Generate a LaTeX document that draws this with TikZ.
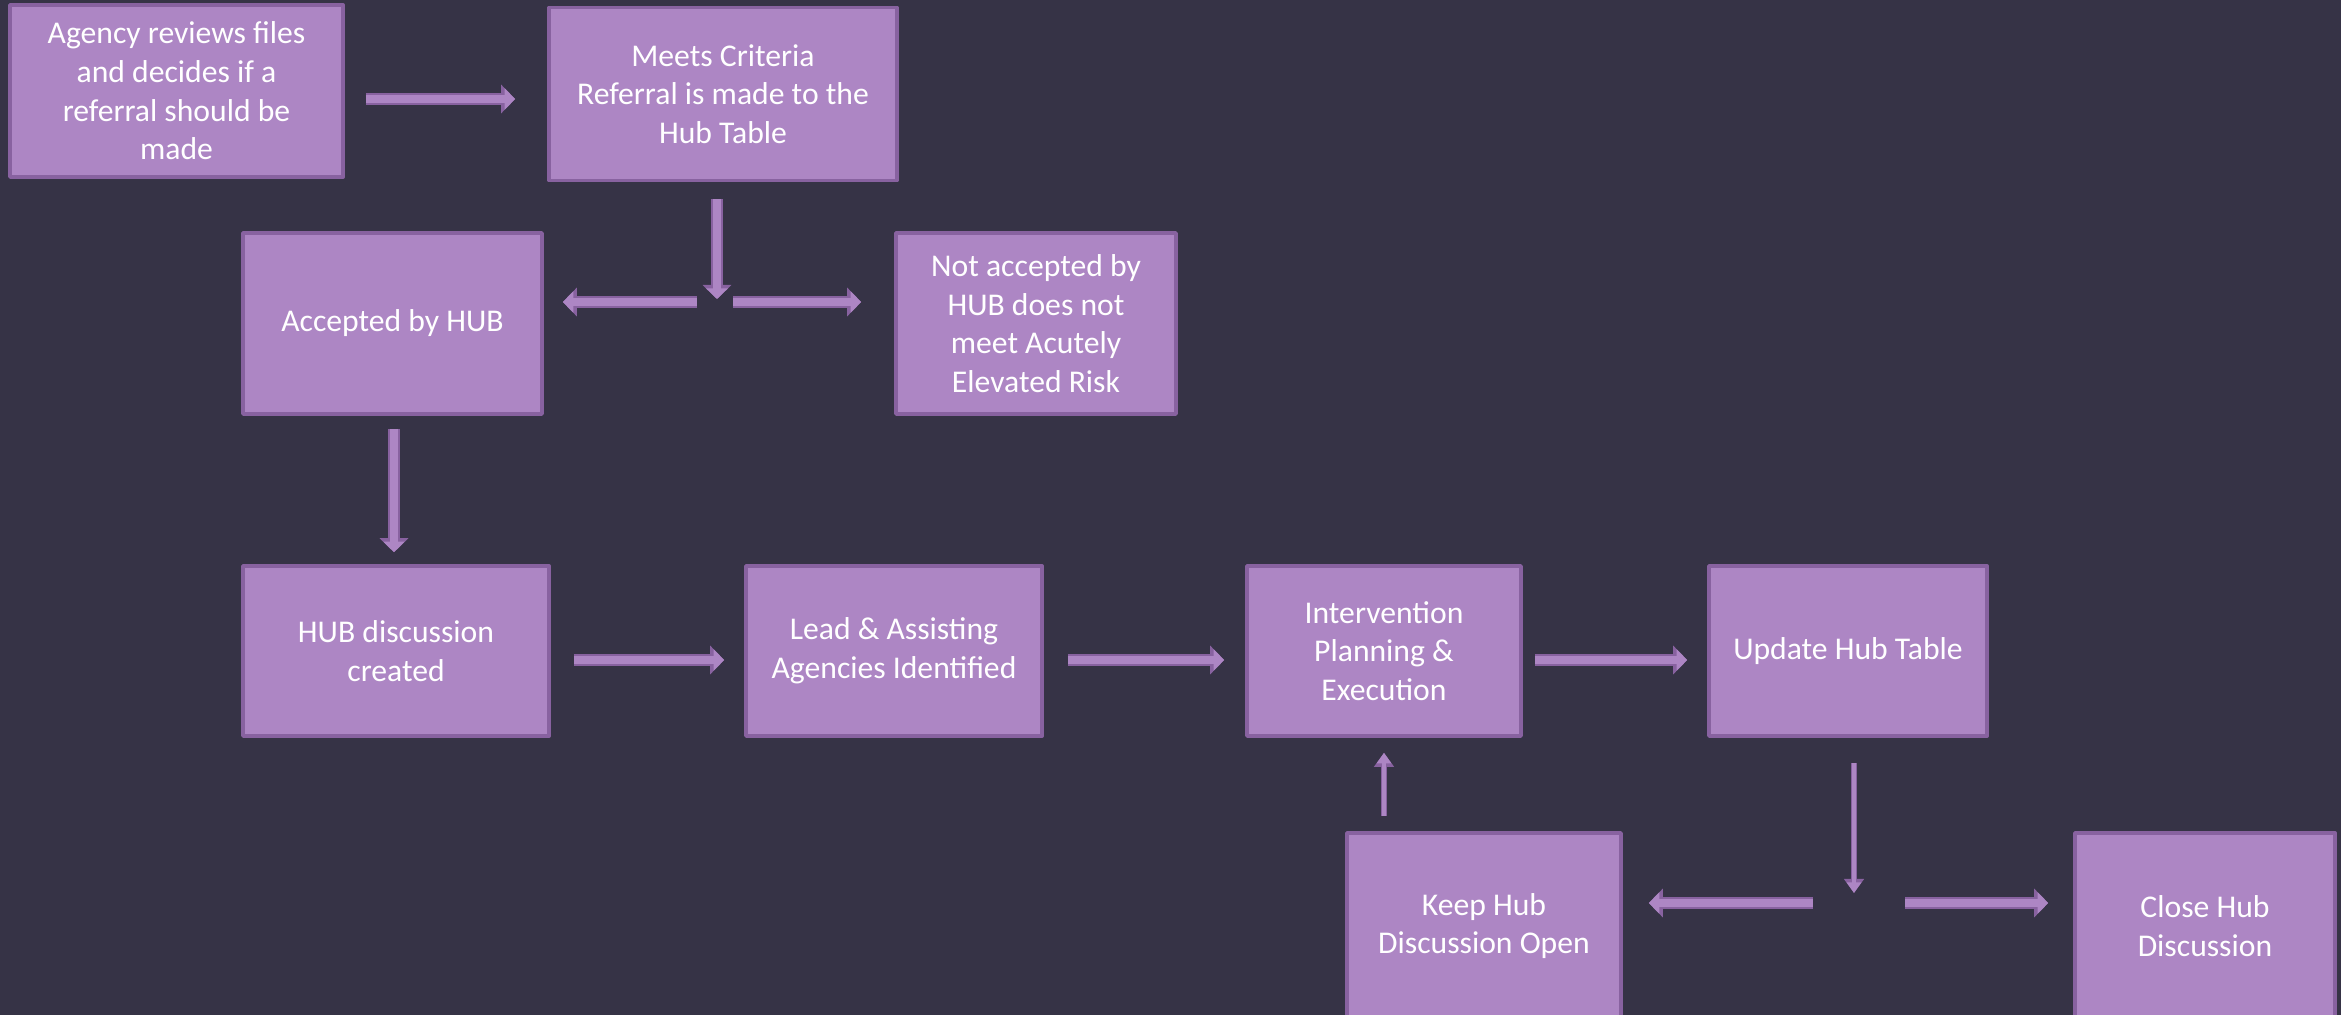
\documentclass[tikz,border=0pt]{standalone}
\usepackage{fontspec}
\setmainfont{Carlito}
\usetikzlibrary{arrows.meta}
\definecolor{slide}{RGB}{54,51,70}
\definecolor{boxfill}{RGB}{173,134,196}
\definecolor{boxline}{RGB}{136,98,160}
\begin{document}
\begin{tikzpicture}[x=0.01cm, y=-0.01cm, line join=round, font=\fontsize{9}{11}\selectfont,
	box/.style={draw=boxline, line width=1pt, fill=boxfill, text=white, align=center, inner sep=0pt},
	flow/.style={draw=boxfill, line width=2pt, -{Triangle[length=3pt,width=6pt]},
		preaction={draw=boxline, line width=3.2pt, -{Triangle[length=4pt,width=8pt]}}},
	thinflow/.style={draw=boxfill, line width=1pt, -{Triangle[length=3pt,width=4pt]},
		preaction={draw=boxline, line width=1.8pt, -{Triangle[length=4pt,width=5.5pt]}}}]
\clip (0,0) rectangle (2341,1015);
\fill[slide] (0,0) rectangle (2341,1015);

\path (176.5,91) node[box, minimum width=3.33cm, minimum height=1.72cm] (agency) {Agency reviews files\\and decides if a\\referral should be\\made}
	(723,94) node[box, minimum width=3.48cm, minimum height=1.73cm] (meets) {Meets Criteria\\Referral is made to the\\Hub Table}
	(392.5,323.5) node[box, minimum width=2.99cm, minimum height=1.81cm] (accepted) {Accepted by HUB}
	(1036,323.5) node[box, minimum width=2.8cm, minimum height=1.81cm] (notacc) {Not accepted by\\HUB does not\\meet Acutely\\Elevated Risk}
	(396,651) node[box, minimum width=3.06cm, minimum height=1.7cm] (hubdisc) {HUB discussion\\created}
	(894,651) node[box, minimum width=2.96cm, minimum height=1.7cm] (lead) {Lead \& Assisting\\Agencies Identified}
	(1384,651) node[box, minimum width=2.74cm, minimum height=1.7cm] (interv) {Intervention\\Planning \&\\Execution}
	(1848,651) node[box, minimum width=2.78cm, minimum height=1.7cm] (update) {Update Hub Table}
	(1484,926) node[box, minimum width=2.74cm, minimum height=1.86cm] (keep) {Keep Hub\\Discussion Open}
	(2205,926) node[box, minimum width=2.6cm, minimum height=1.86cm] (close) {Close Hub\\Discussion}
	(717,302)coordinate(split1) (1854,903)coordinate(split2);

\draw[flow, shorten <=0.21cm, shorten >=0.32cm] ([yshift=-0.08cm]agency.east) -- ([yshift=-0.08cm]agency.east -| meets.west);
\draw[flow, shorten <=0.17cm, shorten >=0.03cm] (meets.south -| split1) -- (split1);
\draw[flow, shorten <=0.2cm, shorten >=0.19cm] (split1) -- (split1 -| accepted.east);
\draw[flow, shorten <=0.16cm, shorten >=0.33cm] (split1) -- (split1 -| notacc.west);
\draw[flow, shorten <=0.13cm, shorten >=0.12cm] ([xshift=0.015cm]accepted.south) -- ([xshift=0.015cm]accepted.south |- hubdisc.north);
\draw[flow, shorten <=0.23cm, shorten >=0.2cm] ([yshift=-0.09cm]hubdisc.east) -- ([yshift=-0.09cm]lead.west);
\draw[flow, shorten <=0.24cm, shorten >=0.21cm] ([yshift=-0.09cm]lead.east) -- ([yshift=-0.09cm]interv.west);
\draw[flow, shorten <=0.12cm, shorten >=0.2cm] ([yshift=-0.09cm]interv.east) -- ([yshift=-0.09cm]update.west);
\draw[thinflow, shorten <=0.25cm, shorten >=0.1cm] (update.south -| split2) -- (split2);
\draw[flow, shorten <=0.41cm, shorten >=0.26cm] (split2) -- (split2 -| keep.east);
\draw[flow, shorten <=0.51cm, shorten >=0.25cm] (split2) -- (split2 -| close.west);
\draw[thinflow, shorten <=0.15cm, shorten >=0.15cm] (keep.north -| interv.south) -- (interv.south);
\end{tikzpicture}
\end{document}
